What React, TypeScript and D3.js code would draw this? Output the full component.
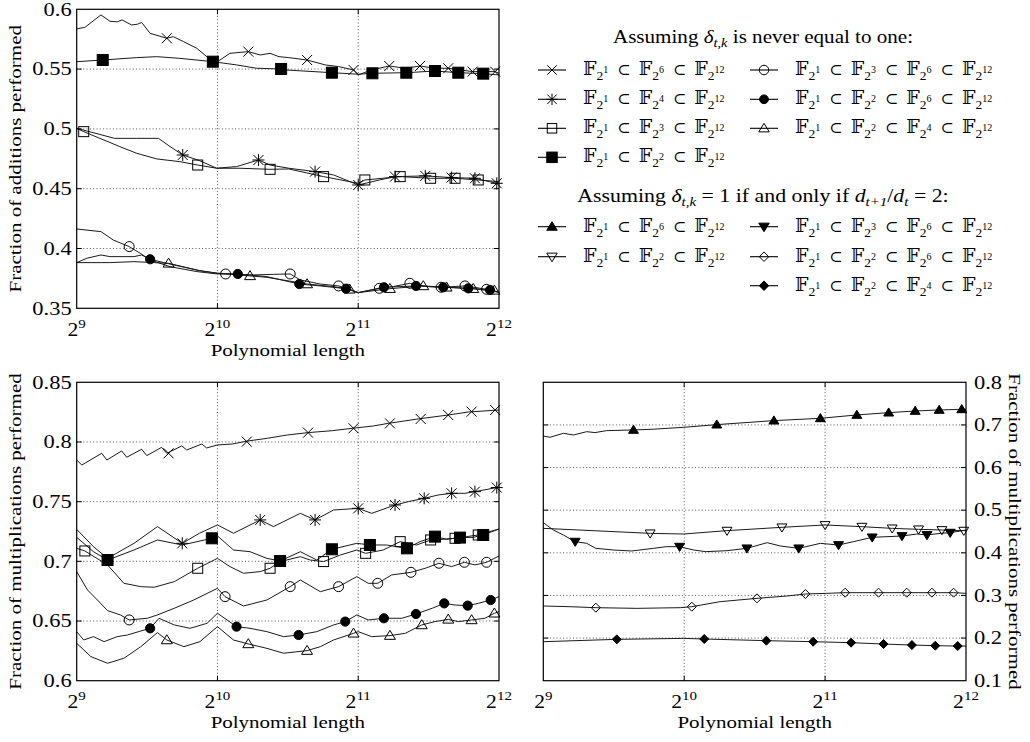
import React from 'react';
import * as d3 from 'd3';

type Pt = [number, number];

// x: polynomial length (2^9 .. 2^12), y: fraction of operations performed
const lengthTicks = [512, 1024, 2048, 4096];
const addTicks = [0.35, 0.4, 0.45, 0.5, 0.55, 0.6];
const mulTicks = [0.6, 0.65, 0.7, 0.75, 0.8, 0.85];
const oneTicks = [0.1, 0.2, 0.3, 0.4, 0.5, 0.6, 0.7, 0.8];

// --- additions, delta never equal to one
const addCross: Pt[] = [[512,.5836],[533,.5849],[577,.5953],[603,.5900],[625,.5895],[640,.5911],[671,.5869],[690,.5875],[705,.5890],[735,.5799],[798,.5758],[824,.5771],[866,.5730],[925,.5674],[1001,.5562],[1024,.5562],[1089,.5632],[1192,.5646],[1264,.5618],[1327,.5632],[1386,.5604],[1455,.5596],[1592,.5576],[1741,.5535],[1859,.5521],[2001,.5493],[2048,.5451],[2188,.5493],[2386,.5526],[2582,.5507],[2776,.5526],[2989,.5507],[3190,.5507],[3597,.5479],[4018,.5479],[4096,.5465]];
const addCrossMarks: Pt[] = [[798,.5758],[1192,.5646],[1592,.5576],[2001,.5493],[2386,.5526],[2776,.5526],[3190,.5507],[3597,.5479],[4018,.5479]];
const addStar: Pt[] = [[512,.5005],[617,.4921],[688,.4921],[766,.4921],[811,.4852],[863,.4782],[937,.4735],[1020,.4671],[1125,.4685],[1253,.4740],[1327,.4698],[1455,.4671],[1656,.4643],[1814,.4615],[2048,.4531],[2272,.4573],[2455,.4601],[2849,.4607],[3244,.4593],[3638,.4587],[4051,.4545],[4096,.4545]];
const addStarMarks: Pt[] = [[863,.4782],[1253,.4740],[1656,.4643],[2048,.4531],[2455,.4601],[2849,.4607],[3244,.4593],[3638,.4587],[4051,.4545]];
const addSq: Pt[] = [[512,.5005],[530,.4977],[633,.4852],[688,.4796],[759,.4749],[851,.4726],[929,.4698],[1020,.4671],[1144,.4671],[1327,.4662],[1455,.4665],[1727,.4601],[2048,.4545],[2116,.4573],[2518,.4601],[2925,.4587],[3299,.4587],[3698,.4573],[4096,.4559]];
const addSqMarks: Pt[] = [[530,.4977],[929,.4698],[1327,.4662],[1727,.4601],[2116,.4573],[2518,.4601],[2925,.4587],[3299,.4587],[3698,.4573]];
const addFSq: Pt[] = [[512,.5562],[582,.5576],[688,.5596],[759,.5604],[851,.5590],[1001,.5562],[1125,.5535],[1241,.5507],[1401,.5501],[1430,.5493],[1799,.5470],[2048,.5457],[2196,.5465],[2595,.5470],[2989,.5484],[3352,.5470],[3790,.5462],[4096,.5451]];
const addFSqMarks: Pt[] = [[582,.5576],[1001,.5562],[1401,.5501],[1799,.5470],[2196,.5465],[2595,.5470],[2989,.5484],[3352,.5470],[3790,.5462]];
const addCirc: Pt[] = [[512,.4163],[577,.4141],[613,.4071],[663,.4016],[700,.3960],[735,.3904],[811,.3848],[925,.3807],[1024,.3787],[1066,.3787],[1222,.3779],[1349,.3784],[1465,.3787],[1540,.3737],[1699,.3703],[1859,.3687],[2048,.3631],[2272,.3667],[2433,.3682],[2641,.3709],[2873,.3682],[3080,.3676],[3464,.3687],[3853,.3659],[4096,.3631]];
const addCircMarks: Pt[] = [[663,.4016],[1066,.3787],[1465,.3787],[1859,.3687],[2272,.3667],[2641,.3709],[3080,.3676],[3464,.3687],[3853,.3659]];
const addDot: Pt[] = [[512,.3882],[538,.3918],[577,.3946],[603,.3932],[679,.3932],[705,.3946],[735,.3910],[798,.3876],[937,.3815],[1024,.3793],[1132,.3787],[1306,.3765],[1532,.3703],[1699,.3687],[1929,.3664],[2048,.3631],[2324,.3676],[2722,.3687],[3113,.3676],[3521,.3667],[3919,.3653],[4096,.3637]];
const addDotMarks: Pt[] = [[735,.3910],[1132,.3787],[1532,.3703],[1929,.3664],[2324,.3676],[2722,.3687],[3113,.3676],[3521,.3667],[3919,.3653]];
const addTri: Pt[] = [[512,.3882],[603,.3882],[679,.3890],[805,.3876],[937,.3815],[1024,.3793],[1202,.3771],[1306,.3759],[1592,.3703],[1814,.3681],[1963,.3659],[2048,.3631],[2394,.3664],[2821,.3687],[3164,.3676],[3608,.3664],[4096,.3637]];
const addTriMarks: Pt[] = [[805,.3876],[1202,.3771],[1592,.3703],[1963,.3659],[2394,.3664],[2821,.3687],[3164,.3676],[3608,.3664],[4004,.3650]];

// --- multiplications, delta never equal to one
const mulCross: Pt[] = [[512,.7849],[525,.7807],[579,.7905],[594,.7849],[639,.7925],[655,.7872],[705,.7939],[723,.7886],[778,.7955],[798,.7905],[859,.7967],[880,.7933],[948,.7983],[971,.7950],[1024,.7975],[1102,.7983],[1187,.8008],[1310,.8031],[1446,.8059],[1596,.8078],[1805,.8095],[1991,.8115],[2205,.8134],[2374,.8156],[2752,.8193],[3190,.8226],[3521,.8251],[4096,.8268]];
const mulCrossMarks: Pt[] = [[805,.7905],[1183,.8003],[1600,.8078],[2001,.8115],[2394,.8156],[2785,.8193],[3190,.8226],[3579,.8254],[4018,.8268]];
const mulStar: Pt[] = [[512,.7268],[556,.7123],[596,.7025],[679,.7151],[762,.7291],[861,.7151],[937,.7235],[1024,.7305],[1108,.7235],[1264,.7347],[1349,.7291],[1540,.7402],[1656,.7347],[1814,.7430],[2048,.7444],[2188,.7402],[2455,.7472],[2620,.7500],[2834,.7528],[3037,.7556],[3244,.7570],[3464,.7570],[3638,.7584],[4051,.7618],[4096,.7618]];
const mulStarMarks: Pt[] = [[861,.7151],[1264,.7347],[1656,.7347],[2048,.7444],[2455,.7472],[2834,.7528],[3244,.7570],[3638,.7584],[4051,.7618]];
const mulSq: Pt[] = [[512,.7109],[533,.7087],[596,.6970],[646,.6816],[702,.6788],[750,.6783],[828,.6830],[929,.6942],[1024,.7025],[1089,.6956],[1164,.6900],[1264,.6914],[1327,.6942],[1394,.6998],[1540,.7039],[1617,.7011],[1727,.6998],[1875,.7053],[2034,.7095],[2124,.7067],[2316,.7095],[2518,.7165],[2730,.7137],[2925,.7179],[3113,.7185],[3299,.7193],[3490,.7207],[3698,.7221],[4096,.7271]];
const mulSqMarks: Pt[] = [[533,.7087],[929,.6942],[1327,.6942],[1727,.6998],[2124,.7067],[2518,.7165],[2925,.7179],[3299,.7193],[3698,.7221]];
const mulFSq: Pt[] = [[512,.7201],[556,.7081],[596,.7011],[679,.7095],[762,.7179],[861,.7137],[996,.7193],[1024,.7213],[1108,.7095],[1202,.7081],[1306,.7025],[1394,.7003],[1540,.7081],[1670,.7011],[1799,.7101],[2034,.7151],[2169,.7137],[2355,.7137],[2603,.7109],[2776,.7165],[2989,.7207],[3164,.7185],[3380,.7199],[3608,.7201],[3790,.7221],[4096,.7271]];
const mulFSqMarks: Pt[] = [[596,.7011],[996,.7193],[1394,.7003],[1799,.7101],[2169,.7137],[2603,.7109],[2989,.7207],[3380,.7199],[3790,.7221]];
const mulCirc: Pt[] = [[512,.6914],[540,.6760],[567,.6676],[596,.6587],[635,.6551],[663,.6509],[725,.6523],[762,.6551],[828,.6607],[911,.6676],[1024,.6774],[1063,.6704],[1164,.6626],[1306,.6676],[1465,.6788],[1540,.6844],[1699,.6746],[1859,.6788],[2034,.6872],[2151,.6816],[2254,.6816],[2414,.6886],[2655,.6908],[2849,.6942],[3047,.6984],[3244,.6956],[3454,.6992],[3638,.6970],[3853,.6992],[4096,.7045]];
const mulCircMarks: Pt[] = [[663,.6509],[1063,.6704],[1465,.6788],[1859,.6788],[2254,.6816],[2655,.6908],[3047,.6984],[3454,.6992],[3853,.6992]];
const mulDot: Pt[] = [[512,.6411],[530,.6341],[556,.6369],[586,.6327],[625,.6369],[657,.6383],[735,.6439],[768,.6523],[828,.6467],[895,.6439],[973,.6481],[1024,.6565],[1125,.6453],[1202,.6439],[1306,.6411],[1418,.6369],[1527,.6383],[1670,.6411],[1814,.6467],[1921,.6495],[2034,.6551],[2151,.6509],[2324,.6523],[2539,.6523],[2722,.6559],[2949,.6607],[3128,.6648],[3299,.6634],[3511,.6629],[3698,.6648],[3932,.6676],[4096,.6704]];
const mulDotMarks: Pt[] = [[735,.6439],[1125,.6453],[1527,.6383],[1921,.6495],[2324,.6523],[2722,.6559],[3128,.6648],[3511,.6629],[3932,.6676]];
const mulTri: Pt[] = [[512,.6313],[549,.6202],[596,.6146],[646,.6188],[702,.6285],[762,.6403],[798,.6341],[868,.6285],[939,.6327],[1024,.6453],[1108,.6341],[1192,.6308],[1306,.6271],[1418,.6230],[1592,.6252],[1699,.6285],[1814,.6341],[2001,.6397],[2048,.6411],[2188,.6369],[2394,.6378],[2582,.6397],[2800,.6467],[2989,.6495],[3190,.6514],[3352,.6495],[3579,.6509],[3822,.6523],[4004,.6565],[4096,.6579]];
const mulTriMarks: Pt[] = [[798,.6341],[1192,.6308],[1592,.6252],[2001,.6397],[2394,.6378],[2800,.6467],[3190,.6514],[3579,.6509],[4004,.6565]];

// --- multiplications, delta = 1 iff d_{t+1}/d_t = 2
const oneFTri: Pt[] = [[512,.6741],[529,.6710],[565,.6803],[594,.6764],[634,.6842],[660,.6820],[699,.6866],[798,.6882],[880,.6900],[1021,.6944],[1202,.7007],[1592,.7101],[2001,.7155],[2394,.7234],[2800,.7288],[3190,.7327],[3590,.7351],[4011,.7366],[4096,.7366]];
const oneFTriMarks: Pt[] = [[798,.6882],[1202,.7007],[1592,.7101],[2001,.7155],[2394,.7234],[2800,.7288],[3190,.7327],[3590,.7351],[4011,.7366]];
const oneITri: Pt[] = [[512,.4574],[866,.4457],[1021,.4441],[1264,.4520],[1656,.4598],[2048,.4653],[2455,.4613],[2849,.4574],[3244,.4551],[3638,.4535],[4051,.4520],[4096,.4520]];
const oneITriMarks: Pt[] = [[866,.4457],[1264,.4520],[1656,.4598],[2048,.4653],[2455,.4613],[2849,.4574],[3244,.4551],[3638,.4535],[4051,.4520]];
const oneFITri: Pt[] = [[512,.4707],[538,.4535],[565,.4418],[599,.4262],[634,.4222],[663,.4105],[723,.4066],[791,.4043],[880,.4105],[937,.4144],[1001,.4144],[1073,.4066],[1139,.4027],[1264,.4050],[1394,.4105],[1540,.4238],[1643,.4160],[1799,.4105],[2001,.4222],[2188,.4183],[2355,.4262],[2582,.4363],[2776,.4379],[2989,.4394],[3217,.4441],[3380,.4418],[3608,.4457],[3790,.4473],[4096,.4535]];
const oneFITriMarks: Pt[] = [[599,.4262],[1001,.4144],[1394,.4105],[1799,.4105],[2188,.4183],[2582,.4363],[2989,.4394],[3380,.4418],[3790,.4473]];
const oneDia: Pt[] = [[512,.2752],[584,.2736],[663,.2713],[811,.2697],[1004,.2713],[1063,.2736],[1222,.2854],[1465,.2932],[1699,.2987],[1859,.3034],[2065,.3049],[2260,.3065],[2664,.3065],[3060,.3065],[3464,.3065],[3853,.3065],[4096,.3049]];
const oneDiaMarks: Pt[] = [[663,.2713],[1063,.2736],[1465,.2932],[1859,.3034],[2260,.3065],[2664,.3065],[3060,.3065],[3464,.3065],[3853,.3065]];
const oneFDia: Pt[] = [[512,.1915],[735,.1970],[1021,.1993],[1130,.1978],[1534,.1939],[1931,.1915],[2327,.1892],[2730,.1860],[3139,.1837],[3521,.1821],[3932,.1813],[4096,.1813]];
const oneFDiaMarks: Pt[] = [[735,.1970],[1130,.1978],[1534,.1939],[1931,.1915],[2327,.1892],[2730,.1860],[3139,.1837],[3521,.1821],[3932,.1813]];

// legend: field towers given by the exponents of 2
const towerSix = [1, 6, 12];
const towerFour = [1, 4, 12];
const towerThree = [1, 3, 12];
const towerTwo = [1, 2, 12];
const towerThreeSix = [1, 3, 6, 12];
const towerTwoSix = [1, 2, 6, 12];
const towerTwoFour = [1, 2, 4, 12];

const SERIF = '"Liberation Serif", "Times New Roman", serif';
const MATH = '"DejaVu Serif", "DejaVu Sans", serif';

type Kind = 'cross' | 'star' | 'sq' | 'fsq' | 'circ' | 'fcirc' | 'tri' | 'ftri' | 'itri' | 'fitri' | 'dia' | 'fdia';

interface Series { data: Pt[]; marks: Pt[]; kind: Kind; }

function Marker({ kind, cx, cy, s }: { kind: Kind; cx: number; cy: number; s: number }) {
  const h = s / 2;
  const st = { stroke: '#000', strokeWidth: 1 };
  switch (kind) {
    case 'cross':
      return <path d={`M${cx - h},${cy - h}L${cx + h},${cy + h}M${cx - h},${cy + h}L${cx + h},${cy - h}`} fill="none" {...st} />;
    case 'star':
      return <path d={`M${cx - h},${cy - h}L${cx + h},${cy + h}M${cx - h},${cy + h}L${cx + h},${cy - h}M${cx},${cy - h * 1.2}L${cx},${cy + h * 1.2}M${cx - h * 1.2},${cy}L${cx + h * 1.2},${cy}`} fill="none" {...st} />;
    case 'sq':
      return <rect x={cx - h} y={cy - h} width={s} height={s} fill="none" {...st} />;
    case 'fsq':
      return <rect x={cx - h * 1.1} y={cy - h * 1.1} width={s * 1.1} height={s * 1.1} fill="#000" {...st} />;
    case 'circ':
      return <circle cx={cx} cy={cy} r={h} fill="none" {...st} />;
    case 'fcirc':
      return <circle cx={cx} cy={cy} r={h * 0.92} fill="#000" {...st} />;
    case 'tri':
    case 'ftri':
      return <path d={`M${cx},${cy - h * 1.05}L${cx + h * 1.1},${cy + h * 0.75}L${cx - h * 1.1},${cy + h * 0.75}Z`} fill={kind === 'ftri' ? '#000' : 'none'} {...st} />;
    case 'itri':
    case 'fitri':
      return <path d={`M${cx},${cy + h * 1.05}L${cx + h * 1.1},${cy - h * 0.75}L${cx - h * 1.1},${cy - h * 0.75}Z`} fill={kind === 'fitri' ? '#000' : 'none'} {...st} />;
    case 'dia':
    case 'fdia':
      return <path d={`M${cx},${cy - h}L${cx + h},${cy}L${cx},${cy + h}L${cx - h},${cy}Z`} fill={kind === 'fdia' ? '#000' : 'none'} {...st} />;
  }
  return null;
}

// text drawn a little wider than tall, as in the original figure
function Wide({ x, y, rot = 0, sx = 1.2, anchor = 'middle', size = 18, children }: any) {
  return (
    <text
      transform={`translate(${x},${y})${rot ? ` rotate(${rot})` : ''} scale(${sx},1)`}
      textAnchor={anchor}
      fontSize={size}
      fontFamily={SERIF}
      fill="#000"
    >
      {children}
    </text>
  );
}

interface PanelProps {
  left: number; right: number; top: number; bottom: number;
  yDomain: [number, number]; yTicks: number[];
  yLabel: string; side: 'left' | 'right';
  series: Series[]; markSize: number;
}

function Panel(p: PanelProps) {
  const x = d3.scaleLog().base(2).domain([512, 4096]).range([p.left, p.right]);
  const y = d3.scaleLinear().domain(p.yDomain).range([p.bottom, p.top]);
  const line = d3.line<Pt>().x(d => x(d[0])).y(d => y(d[1]));
  const fmt = d3.format('.2~f');
  const midY = (p.top + p.bottom) / 2;
  const grid = { stroke: '#444', strokeWidth: 0.9, strokeDasharray: '1,2.3' };
  const tk = 5;
  return (
    <g>
      {p.yTicks.slice(1, -1).map(v => (
        <g key={'gy' + v}>
          <line x1={p.left} x2={p.right} y1={y(v)} y2={y(v)} {...grid} />
          <line x1={p.left} x2={p.left + tk} y1={y(v)} y2={y(v)} stroke="#000" />
          <line x1={p.right - tk} x2={p.right} y1={y(v)} y2={y(v)} stroke="#000" />
        </g>
      ))}
      {lengthTicks.slice(1, -1).map(n => (
        <g key={'gx' + n}>
          <line x1={x(n)} x2={x(n)} y1={p.top} y2={p.bottom} {...grid} />
          <line x1={x(n)} x2={x(n)} y1={p.bottom - tk} y2={p.bottom} stroke="#000" />
          <line x1={x(n)} x2={x(n)} y1={p.top} y2={p.top + tk} stroke="#000" />
        </g>
      ))}
      {p.series.map((s, i) => (
        <path key={'l' + i} d={line(s.data) || ''} fill="none" stroke="#1a1a1a" strokeWidth={1} />
      ))}
      {p.series.map((s, i) =>
        s.marks.map((m, j) => <Marker key={`m${i}-${j}`} kind={s.kind} cx={x(m[0])} cy={y(m[1])} s={p.markSize} />)
      )}
      <rect x={p.left} y={p.top} width={p.right - p.left} height={p.bottom - p.top} fill="none" stroke="#000" strokeWidth={1.2} />
      {p.yTicks.map(v =>
        p.side === 'left' ? (
          <Wide key={'ty' + v} x={p.left - 5} y={y(v) + 6.3} anchor="end" size={18} sx={1.25}>{fmt(v)}</Wide>
        ) : (
          <Wide key={'ty' + v} x={p.right + 8} y={y(v) + 6.3} anchor="start" size={18} sx={1.25}>{fmt(v)}</Wide>
        )
      )}
      {lengthTicks.map(n => (
        <Wide key={'tx' + n} x={x(n)} y={p.bottom + 27.5} size={18} sx={1.2}>
          2<tspan dy={-8} fontSize={12.5}>{Math.round(Math.log2(n))}</tspan>
        </Wide>
      ))}
      <Wide x={(p.left + p.right) / 2} y={p.bottom + 47.5} size={17.5} sx={1.2}>Polynomial length</Wide>
      {p.side === 'left' ? (
        <Wide x={21} y={midY} rot={-90} size={17.5} sx={1.2}>{p.yLabel}</Wide>
      ) : (
        <Wide x={1009} y={midY} rot={90} size={17.5} sx={1.2}>{p.yLabel}</Wide>
      )}
    </g>
  );
}

function Tower({ exps, x, y }: { exps: number[]; x: number; y: number }) {
  const parts: React.ReactNode[] = [];
  exps.forEach((e, i) => {
    if (i > 0) parts.push(<tspan key={'c' + i} dx={9} dy={2} fontSize={16} fontFamily={MATH}>⊂</tspan>);
    parts.push(<tspan key={'f' + i} dx={i > 0 ? 8 : 0} dy={0} fontSize={19} fontFamily={MATH}>𝔽</tspan>);
    parts.push(<tspan key={'b' + i} dy={5} fontSize={13.5}>2</tspan>);
    parts.push(<tspan key={'e' + i} dy={-7} fontSize={10}>{e}</tspan>);
  });
  return (
    <text x={x} y={y} fontFamily={SERIF} fill="#000">{parts}</text>
  );
}

function LegendRow({ kind, exps, col, y }: { kind: Kind; exps: number[]; col: number; y: number }) {
  const mx = col === 0 ? 552 : 764;
  return (
    <g>
      <line x1={mx - 14} x2={mx + 14} y1={y} y2={y} stroke="#000" strokeWidth={1.1} />
      <Marker kind={kind} cx={mx} cy={y} s={9.5} />
      <Tower exps={exps} x={mx + 31} y={y + 5} />
    </g>
  );
}

function Legend() {
  const it = { fontStyle: 'italic' as const };
  return (
    <g>
      <Wide x={763} y={43} size={19} sx={1.11}>
        Assuming <tspan {...it}>δ</tspan><tspan {...it} fontSize={13} dy={4}>t,k</tspan>
        <tspan dy={-4}> is never equal to one:</tspan>
      </Wide>
      <LegendRow kind="cross" exps={towerSix} col={0} y={70} />
      <LegendRow kind="star" exps={towerFour} col={0} y={99.3} />
      <LegendRow kind="sq" exps={towerThree} col={0} y={128.3} />
      <LegendRow kind="fsq" exps={towerTwo} col={0} y={157.3} />
      <LegendRow kind="circ" exps={towerThreeSix} col={1} y={70} />
      <LegendRow kind="fcirc" exps={towerTwoSix} col={1} y={99.3} />
      <LegendRow kind="tri" exps={towerTwoFour} col={1} y={128.3} />
      <Wide x={763} y={201.7} size={19} sx={1.15}>
        Assuming <tspan {...it}>δ</tspan><tspan {...it} fontSize={13} dy={4}>t,k</tspan>
        <tspan dy={-4}> = 1 if and only if </tspan><tspan {...it}>d</tspan>
        <tspan {...it} fontSize={13} dy={4}>t+1</tspan><tspan dy={-4}>/</tspan><tspan {...it}>d</tspan>
        <tspan {...it} fontSize={13} dy={4}>t</tspan><tspan dy={-4}> = 2:</tspan>
      </Wide>
      <LegendRow kind="ftri" exps={towerSix} col={0} y={226.7} />
      <LegendRow kind="itri" exps={towerTwo} col={0} y={256.7} />
      <LegendRow kind="fitri" exps={towerThreeSix} col={1} y={226.7} />
      <LegendRow kind="dia" exps={towerTwoSix} col={1} y={256.7} />
      <LegendRow kind="fdia" exps={towerTwoFour} col={1} y={285.7} />
    </g>
  );
}

export default function App() {
  const addSeries: Series[] = [
    { data: addCross, marks: addCrossMarks, kind: 'cross' },
    { data: addFSq, marks: addFSqMarks, kind: 'fsq' },
    { data: addStar, marks: addStarMarks, kind: 'star' },
    { data: addSq, marks: addSqMarks, kind: 'sq' },
    { data: addCirc, marks: addCircMarks, kind: 'circ' },
    { data: addDot, marks: addDotMarks, kind: 'fcirc' },
    { data: addTri, marks: addTriMarks, kind: 'tri' },
  ];
  const mulSeries: Series[] = [
    { data: mulCross, marks: mulCrossMarks, kind: 'cross' },
    { data: mulStar, marks: mulStarMarks, kind: 'star' },
    { data: mulSq, marks: mulSqMarks, kind: 'sq' },
    { data: mulFSq, marks: mulFSqMarks, kind: 'fsq' },
    { data: mulCirc, marks: mulCircMarks, kind: 'circ' },
    { data: mulDot, marks: mulDotMarks, kind: 'fcirc' },
    { data: mulTri, marks: mulTriMarks, kind: 'tri' },
  ];
  const oneSeries: Series[] = [
    { data: oneFTri, marks: oneFTriMarks, kind: 'ftri' },
    { data: oneITri, marks: oneITriMarks, kind: 'itri' },
    { data: oneFITri, marks: oneFITriMarks, kind: 'fitri' },
    { data: oneDia, marks: oneDiaMarks, kind: 'dia' },
    { data: oneFDia, marks: oneFDiaMarks, kind: 'fdia' },
  ];
  return (
    <svg
      width={1030}
      height={742}
      style={{ position: 'absolute', left: 0, top: 0, display: 'block', background: '#fff' }}
    >
      <Panel left={76.7} right={499} top={9.3} bottom={308.3} yDomain={[0.35, 0.6]} yTicks={addTicks}
        yLabel="Fraction of additions performed" side="left" series={addSeries} markSize={10} />
      <Panel left={76.7} right={499} top={382.3} bottom={680.7} yDomain={[0.6, 0.85]} yTicks={mulTicks}
        yLabel="Fraction of multiplications performed" side="left" series={mulSeries} markSize={10} />
      <Panel left={543.3} right={966} top={382.3} bottom={680.7} yDomain={[0.1, 0.8]} yTicks={oneTicks}
        yLabel="Fraction of multiplications performed" side="right" series={oneSeries} markSize={9} />
      <Legend />
    </svg>
  );
}
